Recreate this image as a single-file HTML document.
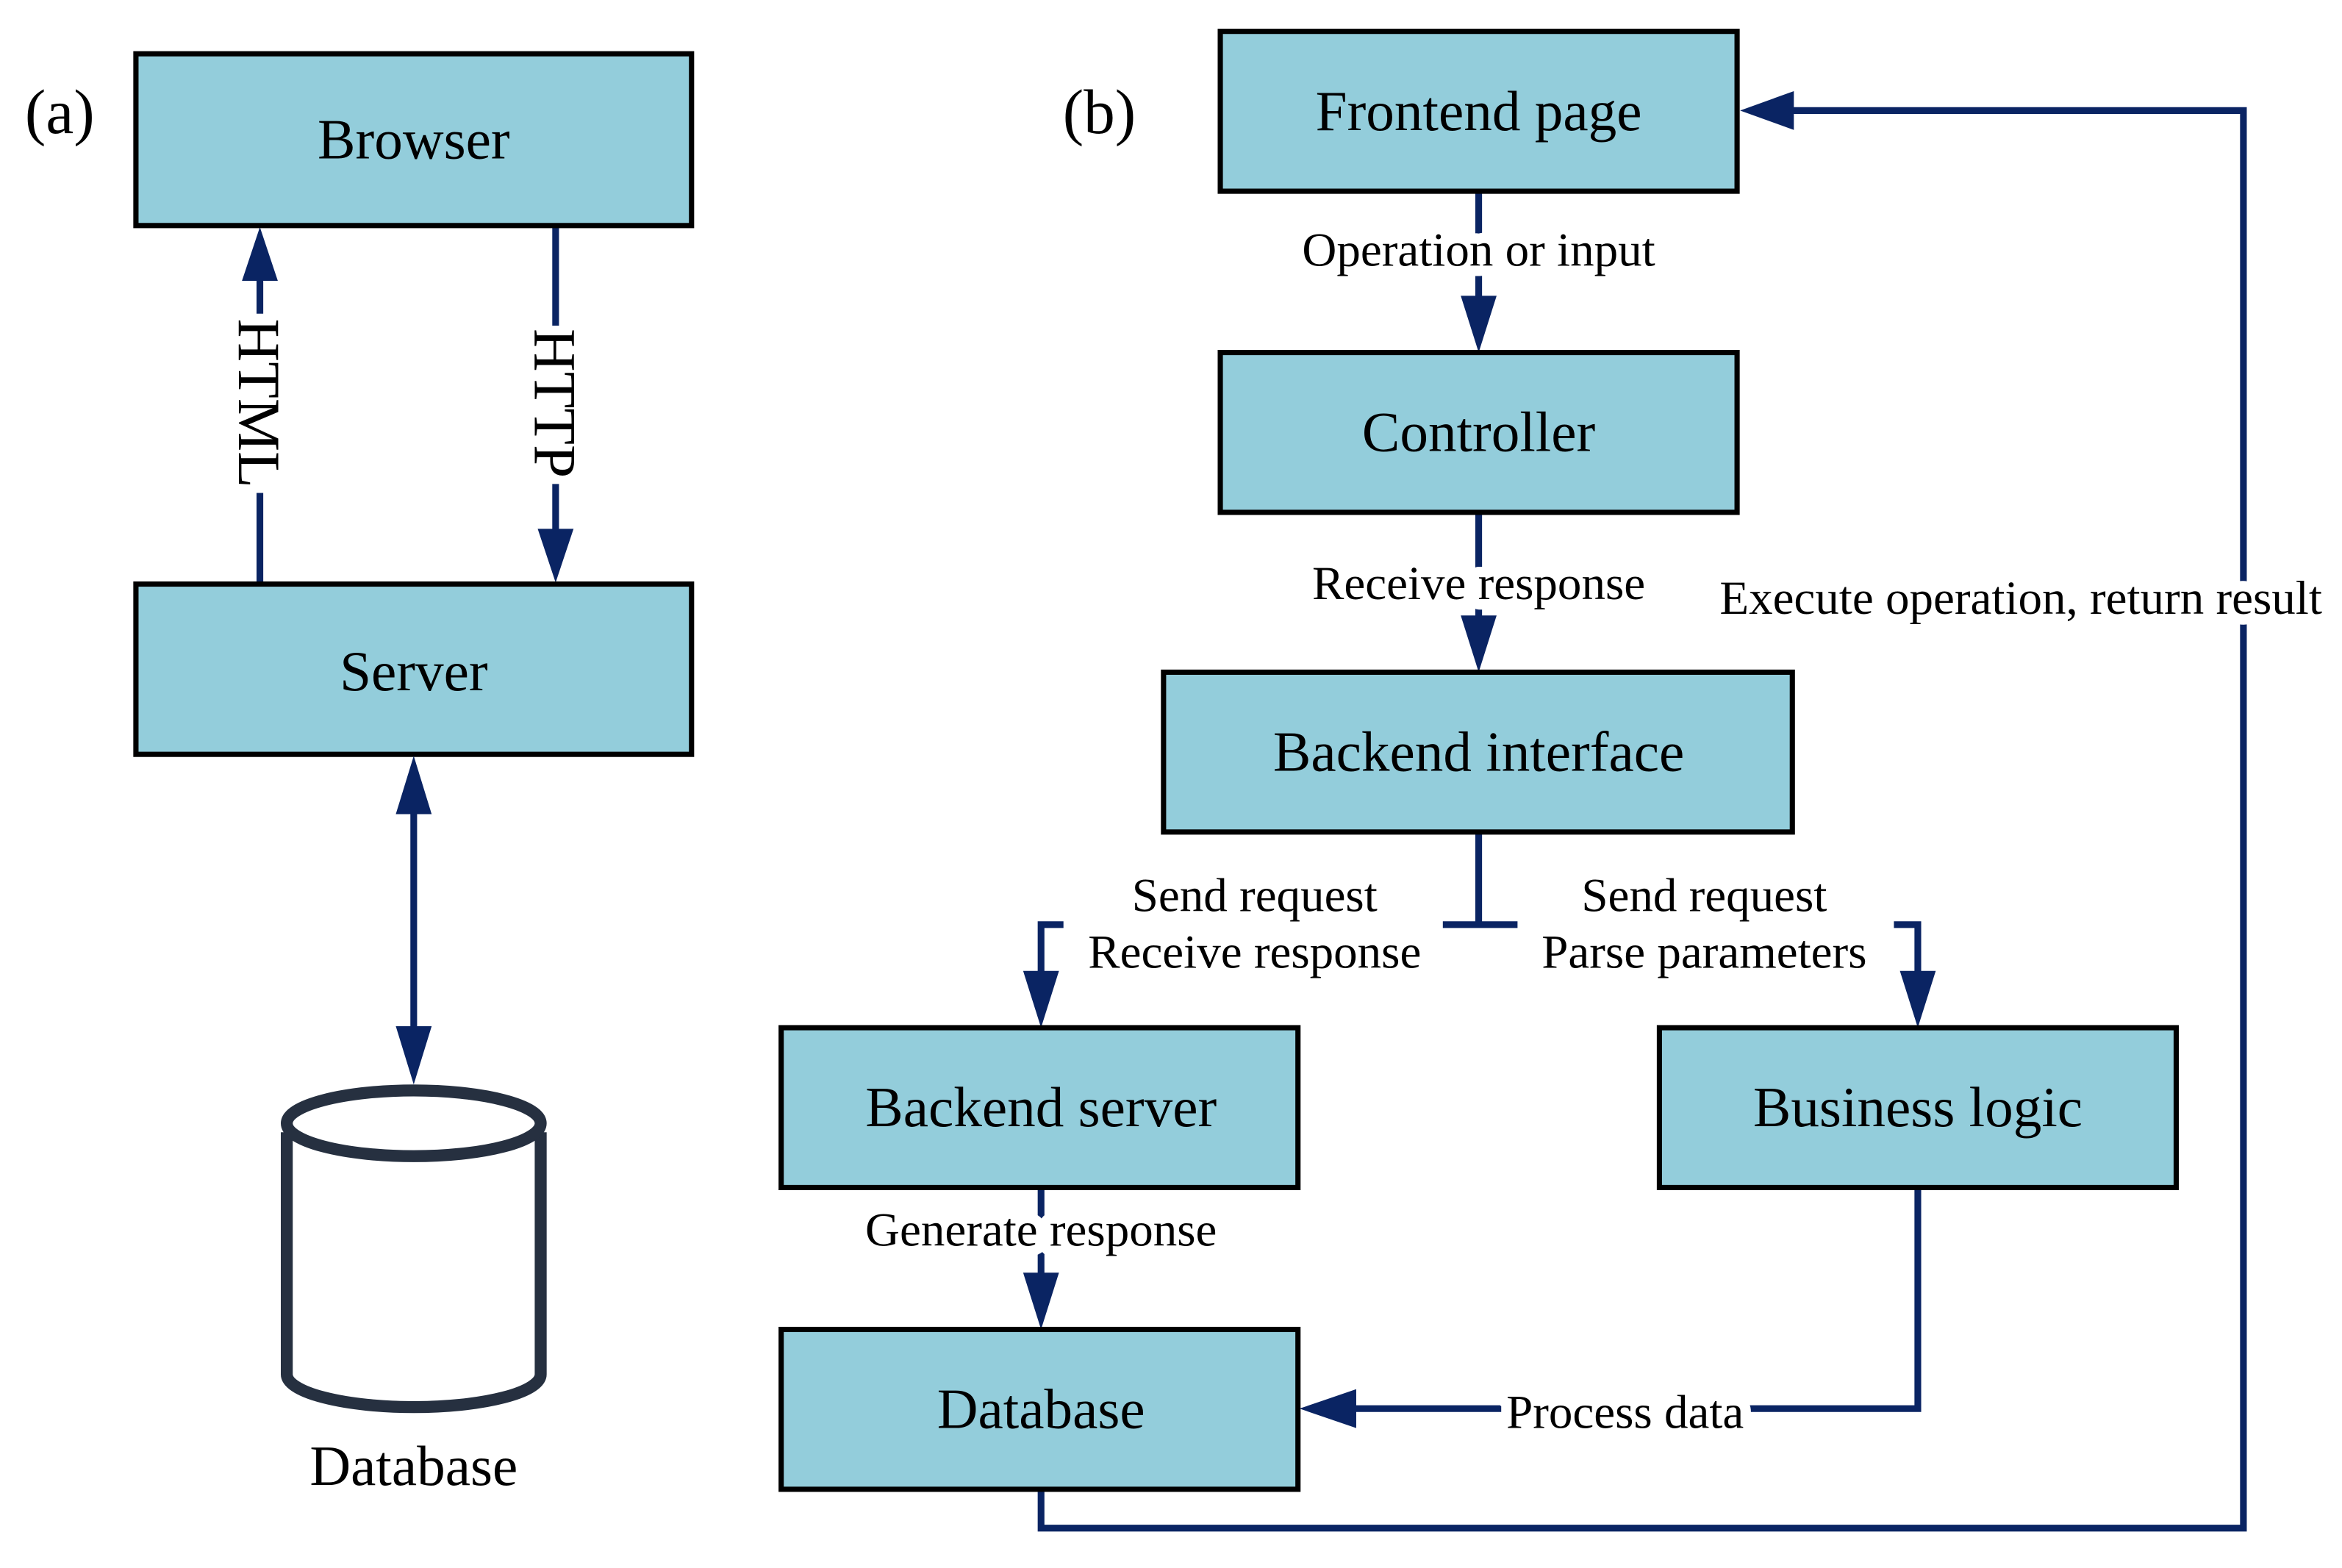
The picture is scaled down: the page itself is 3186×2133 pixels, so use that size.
<!DOCTYPE html>
<html><head><meta charset="utf-8"><style>
html,body{margin:0;padding:0;background:#fff;}
svg{display:block;}
text{font-family:"Liberation Serif",serif;fill:#000;}
.b{font-size:38px;text-anchor:middle;}
.l{font-size:32px;text-anchor:middle;stroke:#fff;stroke-width:14px;paint-order:stroke;stroke-linejoin:round;}
.box{fill:#93cddb;stroke:#000;stroke-width:3.5;}
.ln{stroke:#0a2463;stroke-width:4.5;fill:none;}
.ah{fill:#0a2463;}
</style></head><body>
<svg width="3186" height="2133" viewBox="0 0 1568 1049.7" preserveAspectRatio="none" xmlns="http://www.w3.org/2000/svg">
<!-- (a) -->
<text x="40" y="89" style="font-size:42px;text-anchor:middle">(a)</text>
<line class="ln" x1="174" y1="391" x2="174" y2="185"/>
<polygon class="ah" points="174,152 162,188 186,188"/>
<line class="ln" x1="372" y1="151" x2="372" y2="358"/>
<polygon class="ah" points="372,390 360,354 384,354"/>
<rect x="156" y="210" width="36" height="120" fill="#fff"/>
<rect x="354" y="218" width="36" height="106" fill="#fff"/>
<text x="0" y="0" transform="translate(160,270) rotate(90)" style="font-size:40px;text-anchor:middle">HTML</text>
<text x="0" y="0" transform="translate(358,270) rotate(90)" style="font-size:40px;text-anchor:middle">HTTP</text>
<rect class="box" x="91" y="36" width="372" height="115"/>
<text class="b" x="277" y="106">Browser</text>
<rect class="box" x="91" y="391" width="372" height="114"/>
<text class="b" x="277" y="462">Server</text>
<line class="ln" x1="277" y1="540" x2="277" y2="692"/>
<polygon class="ah" points="277,506 265,545 289,545"/>
<polygon class="ah" points="277,726 265,687 289,687"/>
<path d="M192,758 L192,920 A85,22 0 0 0 362,920 L362,758" fill="#fff" stroke="#263040" stroke-width="8"/>
<ellipse cx="277" cy="752" rx="85" ry="22" fill="#fff" stroke="#263040" stroke-width="8"/>
<text class="b" x="277" y="994">Database</text>
<!-- (b) -->
<text x="736" y="89" style="font-size:42px;text-anchor:middle">(b)</text>
<polyline class="ln" points="697,997 697,1023 1502,1023 1502,74 1200,74"/>
<polygon class="ah" points="1165,74 1201,61 1201,87"/>
<text class="l" x="1353" y="411">Execute operation, return result</text>
<line class="ln" x1="990" y1="128" x2="990" y2="205"/>
<polygon class="ah" points="990,236 978,198 1002,198"/>
<text class="l" x="990" y="178">Operation or input</text>
<line class="ln" x1="990" y1="343" x2="990" y2="420"/>
<polygon class="ah" points="990,450 978,412 1002,412"/>
<text class="l" x="990" y="401">Receive response</text>
<line class="ln" x1="990" y1="557" x2="990" y2="619"/>
<polyline class="ln" points="697,657 697,619 1284,619 1284,657"/>
<polygon class="ah" points="697,688 685,650 709,650"/>
<polygon class="ah" points="1284,688 1272,650 1296,650"/>
<rect x="712" y="582" width="254" height="75" fill="#fff"/>
<rect x="1016" y="582" width="252" height="75" fill="#fff"/>
<text class="l" x="840" y="610">Send request</text>
<text class="l" x="840" y="648">Receive response</text>
<text class="l" x="1141" y="610">Send request</text>
<text class="l" x="1141" y="648">Parse parameters</text>
<line class="ln" x1="697" y1="795" x2="697" y2="860"/>
<polygon class="ah" points="697,890 685,852 709,852"/>
<text class="l" x="697" y="834">Generate response</text>
<polyline class="ln" points="1284,795 1284,943 900,943"/>
<polygon class="ah" points="870,943 908,930 908,956"/>
<text class="l" x="1088" y="956">Process data</text>
<rect class="box" x="817" y="21" width="346" height="107"/>
<text class="b" x="990" y="87">Frontend page</text>
<rect class="box" x="817" y="236" width="346" height="107"/>
<text class="b" x="990" y="302">Controller</text>
<rect class="box" x="779" y="450" width="421" height="107"/>
<text class="b" x="990" y="516">Backend interface</text>
<rect class="box" x="523" y="688" width="346" height="107"/>
<text class="b" x="697" y="754">Backend server</text>
<rect class="box" x="1111" y="688" width="346" height="107"/>
<text class="b" x="1284" y="754">Business logic</text>
<rect class="box" x="523" y="890" width="346" height="107"/>
<text class="b" x="697" y="956">Database</text>
</svg>
</body></html>
